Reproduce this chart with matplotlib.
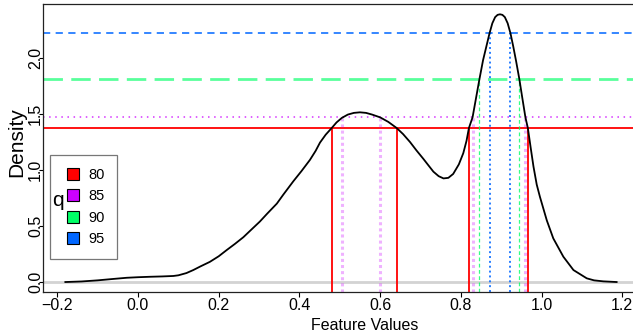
import matplotlib
matplotlib.use('Agg')
import matplotlib.pyplot as plt
from matplotlib.lines import Line2D

plt.rcParams['font.family'] = ['Liberation Sans', 'DejaVu Sans']

# densidad
curve_x = [-0.18, -0.14, -0.1, -0.06, -0.028, 0.0, 0.03, 0.06, 0.0875, 0.1, 0.12,
           0.137, 0.155, 0.178, 0.2, 0.22, 0.24, 0.261, 0.28, 0.302, 0.32, 0.344,
           0.36, 0.385, 0.405, 0.426, 0.44, 0.451, 0.465, 0.48, 0.492, 0.505, 0.52,
           0.535, 0.55, 0.565, 0.58, 0.60, 0.62, 0.641, 0.657, 0.674, 0.69, 0.707,
           0.72, 0.732, 0.745, 0.757, 0.769, 0.781, 0.795, 0.806, 0.814, 0.82, 0.829,
           0.838, 0.846, 0.855, 0.863, 0.871, 0.878, 0.885, 0.891, 0.897, 0.903,
           0.909, 0.916, 0.923, 0.93, 0.937, 0.945, 0.952, 0.96, 0.966, 0.973, 0.98,
           0.988, 0.996, 1.013, 1.029, 1.054, 1.079, 1.112, 1.13, 1.153, 1.186]
curve_y = [0.0, 0.005, 0.015, 0.028, 0.038, 0.043, 0.047, 0.05, 0.054, 0.06, 0.08,
           0.107, 0.14, 0.18, 0.23, 0.286, 0.34, 0.40, 0.465, 0.54, 0.61, 0.70,
           0.78, 0.90, 0.99, 1.09, 1.17, 1.245, 1.315, 1.375, 1.425, 1.465, 1.495,
           1.51, 1.515, 1.51, 1.495, 1.47, 1.43, 1.375, 1.32, 1.25, 1.175, 1.10,
           1.04, 0.985, 0.945, 0.925, 0.93, 0.965, 1.05, 1.15, 1.26, 1.375, 1.47,
           1.65, 1.81, 1.98, 2.1, 2.22, 2.31, 2.365, 2.385, 2.39, 2.385,
           2.365, 2.31, 2.22, 2.1, 1.97, 1.81, 1.65, 1.47, 1.375, 1.2, 1.03,
           0.87, 0.76, 0.55, 0.39, 0.226, 0.107, 0.033, 0.015, 0.006, 0.0]

# cuantiles
q_labels = ['80', '85', '90', '95']
q_colors = ['#FF0000', '#CC00FF', '#00FF66', '#0066FF']
q_heights = [1.375, 1.47, 1.81, 2.22]
q_cuts = [[0.48, 0.641, 0.820, 0.966],
          [0.505, 0.600, 0.829, 0.960],
          [0.846, 0.945],
          [0.871, 0.923]]

xticks = [-0.2, 0.0, 0.2, 0.4, 0.6, 0.8, 1.0, 1.2]
xtick_labels = ['\u22120.2', '0.0', '0.2', '0.4', '0.6', '0.8', '1.0', '1.2']
yticks = [0.0, 0.5, 1.0, 1.5, 2.0]
ytick_labels = ['0.0', '0.5', '1.0', '1.5', '2.0']

W, H = 633, 336
fig = plt.figure(figsize=(W / 100, H / 100), dpi=100)
ax = fig.add_axes([43 / W, (H - 292) / H, (636 - 43) / W, (292 - 4) / H])
ax.set_xlim(-0.2354, 1.234)
ax.set_ylim(-0.089, 2.482)
y0 = ax.get_ylim()[0]

# linea base
ax.axhline(0, color='#d3d3d3', lw=2, zorder=1)

# estilos (horizontal, vertical)
h_styles = [dict(ls='-', lw=1.3, alpha=1.0),
            dict(ls=(0, (1, 3)), lw=1.1, alpha=0.8),
            dict(ls=(0, (7, 3)), lw=2.0, alpha=0.65),
            dict(ls=(0, (4, 3)), lw=1.3, alpha=0.85)]
v_styles = [dict(ls='-', lw=1.3, alpha=1.0),
            dict(ls=(0, (1, 1)), lw=2.2, alpha=0.3),
            dict(ls=(0, (3, 2)), lw=0.9, alpha=0.8),
            dict(ls=(0, (1, 1.5)), lw=1.4, alpha=0.85)]

for i in range(len(q_labels)):
    ax.axhline(q_heights[i], color=q_colors[i], zorder=2, **h_styles[i])
    ax.vlines(q_cuts[i], y0, q_heights[i], color=q_colors[i], zorder=2, **v_styles[i])

ax.plot(curve_x, curve_y, color='black', lw=1.3, zorder=3)

ax.spines['right'].set_visible(False)
for s in ['left', 'bottom', 'top']:
    ax.spines[s].set_linewidth(0.9)
    ax.spines[s].set_color('#222222')

ax.set_xticks(xticks)
ax.set_xticklabels(xtick_labels, fontsize=11.5)
ax.set_yticks(yticks)
ax.set_yticklabels(ytick_labels, fontsize=11.5, rotation=90, va='center')
ax.tick_params(axis='x', direction='out', length=3.5, width=0.8, pad=1)
ax.tick_params(axis='y', direction='out', length=3, width=0.8, pad=-3)

fig.text(17 / W, 1 - 142 / H, 'Density', rotation=90, fontsize=15,
         ha='center', va='center')
fig.text(365 / W, 1 - 325 / H, 'Feature Values', fontsize=11.5,
         ha='center', va='center')

handles = [Line2D([], [], ls='none', marker='s', markersize=8, markerfacecolor=c,
                  markeredgecolor='black', markeredgewidth=0.8) for c in q_colors]
leg = ax.legend(handles, q_labels, loc='upper left',
                bbox_to_anchor=(50 / W, 1 - 155 / H), bbox_transform=fig.transFigure,
                fontsize=10.5, frameon=True, fancybox=False, borderpad=0.9,
                handlelength=1.4, handletextpad=0.3,
                labelspacing=0.5, borderaxespad=0)
leg.get_frame().set_edgecolor('#555555')
leg.get_frame().set_linewidth(0.9)
fig.text(58 / W, 1 - 200 / H, 'q', fontsize=15, ha='center', va='center')

fig.savefig('out.png', dpi=100)
